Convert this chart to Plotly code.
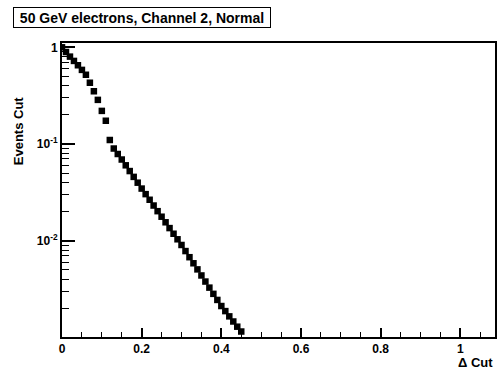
import plotly.graph_objects as go

# Data
delta_cut = [round(0.01 * i, 2) for i in range(46)]
events_cut = [
    1.0, 0.894, 0.801, 0.723, 0.652, 0.584, 0.520, 0.430, 0.351, 0.286,
    0.220, 0.174, 0.110, 0.0898, 0.0788, 0.0691, 0.0602, 0.0525, 0.0457, 0.0398,
    0.0346, 0.0303, 0.0265, 0.0231, 0.0202, 0.0177, 0.0155, 0.0135, 0.0118, 0.01034,
    0.00903, 0.00781, 0.00675, 0.00584, 0.00505, 0.00437, 0.00378, 0.00327, 0.00282, 0.00244,
    0.00211, 0.00187, 0.00165, 0.00146, 0.00129, 0.00115,
]
title_text = "50 GeV electrons, Channel 2, Normal"
y_title = "Events Cut"
x_title = "Δ Cut"
x_ticks = [0, 0.2, 0.4, 0.6, 0.8, 1]
x_ticklabels = ["0", "0.2", "0.4", "0.6", "0.8", "1"]
y_ticks = [1, 0.1, 0.01]
y_ticklabels = ["1", "10<sup>-1</sup>", "10<sup>-2</sup>"]

W, H = 500, 375
L, R, T, B = 62, 3, 43, 38
pw, ph = W - L - R, H - T - B

FONT = "Liberation Sans, Arial, sans-serif"

fig = go.Figure()
fig.add_trace(go.Scatter(
    x=delta_cut, y=events_cut, mode="markers",
    marker=dict(symbol="square", size=6.5, color="black", line=dict(width=0)),
    showlegend=False,
))

fig.update_layout(
    width=W, height=H,
    margin=dict(l=L, r=R, t=T, b=B),
    paper_bgcolor="white", plot_bgcolor="white",
    font=dict(family=FONT, color="black", size=12),
)
fig.update_xaxes(
    range=[0, 1.087], showgrid=False, zeroline=False,
    showline=True, linecolor="black", linewidth=2, mirror=True,
    tickmode="array", tickvals=x_ticks, ticktext=x_ticklabels,
    ticks="inside", ticklen=9, tickwidth=1.5, tickcolor="black",
    tickfont=dict(family=FONT, size=12, weight="bold"),
    minor=dict(ticks="inside", ticklen=5, tickwidth=1.2, tickcolor="black", dtick=0.05, showgrid=False),
)
fig.update_yaxes(
    type="log", range=[-2.996, 0.0445], showgrid=False, zeroline=False,
    showline=True, linecolor="black", linewidth=2, mirror=True,
    tickmode="array", tickvals=y_ticks, ticktext=y_ticklabels,
    ticks="inside", ticklen=13, tickwidth=1.5, tickcolor="black",
    tickfont=dict(family=FONT, size=12, weight="bold"),
    minor=dict(ticks="inside", ticklen=7, tickwidth=1.2, tickcolor="black", dtick="D1", showgrid=False),
)

def px_x(p):
    return (p - L) / pw

def px_y(p):
    return 1 - (p - T) / ph

fig.add_annotation(
    xref="paper", yref="paper", x=px_x(12.5), y=px_y(7),
    xanchor="left", yanchor="top", showarrow=False,
    text=f"<b>{title_text}</b>", font=dict(family=FONT, size=14, color="black"),
    width=254, height=17, align="center",
    bordercolor="black", borderwidth=1, borderpad=1, bgcolor="white",
)
fig.add_annotation(
    xref="paper", yref="paper", x=px_x(18), y=px_y(131),
    xanchor="center", yanchor="middle", showarrow=False, textangle=-90,
    text=f"<b>{y_title}</b>", font=dict(family=FONT, size=13, color="black"),
)
fig.add_annotation(
    xref="paper", yref="paper", x=px_x(497), y=px_y(362),
    xanchor="right", yanchor="middle", showarrow=False,
    text=f"<b>{x_title}</b>", font=dict(family=FONT, size=13, color="black"),
)

fig.write_html("out.html")
